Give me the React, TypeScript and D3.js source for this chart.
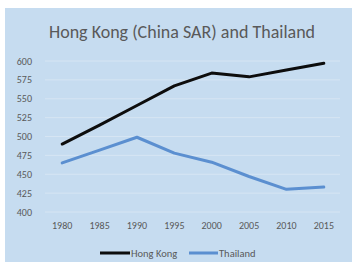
import * as d3 from "d3";

const years = ["1980", "1985", "1990", "1995", "2000", "2005", "2010", "2015"];
const hongKong = [490, 515, 541, 567, 584, 579, 588, 597];
const thailand = [465, 482, 499, 478, 466, 447, 430, 433];
const yTicks = [400, 425, 450, 475, 500, 525, 550, 575, 600];

const seriesList = [
  { name: "Hong Kong", values: hongKong, color: "#0d0d0d" },
  { name: "Thailand", values: thailand, color: "#5b8fd0" },
];

export default function App() {
  const width = 353;
  const height = 264;
  const font = "Carlito, Lato, 'Open Sans', sans-serif";

  const x = d3.scaleBand<string>().domain(years).range([43.5, 342.5]);
  const y = d3.scaleLinear().domain([400, 600]).range([212, 61]);

  const line = d3
    .line<number>()
    .x((_d, i) => (x(years[i]) as number) + x.bandwidth() / 2)
    .y((d) => y(d));

  return (
    <svg
      width={width}
      height={height}
      style={{ position: "absolute", left: 0, top: 0 }}
    >
      <rect x={0} y={0} width={width} height={height} fill="#ffffff" />
      <rect x={5} y={8} width={347} height={254} fill="#c6dcf0" />
      <text
        x={182}
        y={38}
        textAnchor="middle"
        fontFamily={font}
        fontSize={18}
        fill="#595959"
      >
        Hong Kong (China SAR) and Thailand
      </text>

      {yTicks.map((t) => (
        <g key={t}>
          <line
            x1={45}
            x2={340}
            y1={y(t)}
            y2={y(t)}
            stroke="#d6e5f3"
            strokeWidth={1}
          />
          <text
            x={32}
            y={y(t)}
            dy="0.35em"
            textAnchor="end"
            fontFamily={font}
            fontSize={10}
            fill="#595959"
          >
            {t}
          </text>
        </g>
      ))}

      {years.map((yr) => (
        <text
          key={yr}
          x={(x(yr) as number) + x.bandwidth() / 2}
          y={229}
          textAnchor="middle"
          fontFamily={font}
          fontSize={10}
          fill="#595959"
        >
          {yr}
        </text>
      ))}

      {seriesList.map((s) => (
        <path
          key={s.name}
          d={line(s.values) || ""}
          fill="none"
          stroke={s.color}
          strokeWidth={3}
          strokeLinejoin="round"
          strokeLinecap="round"
        />
      ))}

      <g fontFamily={font} fontSize={10.5} fill="#595959">
        <line x1={100} x2={130} y1={253} y2={253} stroke="#0d0d0d" strokeWidth={3} />
        <text x={131} y={253} dy="0.35em">Hong Kong</text>
        <line x1={189} x2={218} y1={253} y2={253} stroke="#5b8fd0" strokeWidth={3} />
        <text x={219} y={253} dy="0.35em">Thailand</text>
      </g>
    </svg>
  );
}
